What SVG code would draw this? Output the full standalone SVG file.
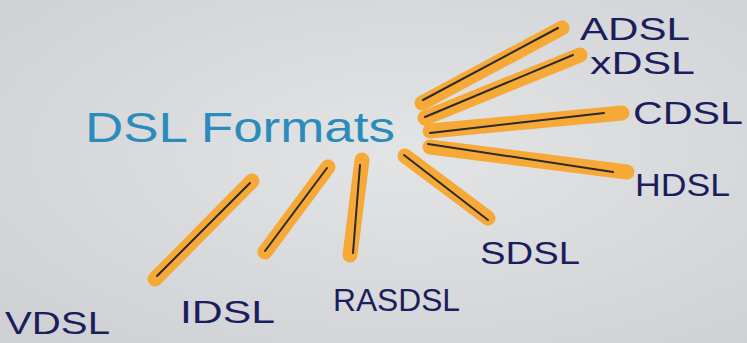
<svg xmlns="http://www.w3.org/2000/svg" width="747" height="343" viewBox="0 0 747 343">
<defs>
<radialGradient id="paper" cx="0.55" cy="0.45" r="0.75">
<stop offset="0" stop-color="#e3e4e6"/>
<stop offset="1" stop-color="#cfd0d3"/>
</radialGradient>
</defs>
<style>
.hl{stroke:#f6a936;stroke-width:15;stroke-linecap:round;fill:none}
.ln{stroke:#2a2a2a;stroke-width:2;stroke-linecap:round;fill:none}
.lbl{font-family:"Liberation Sans",Arial,sans-serif;font-size:32px;fill:#1b1e5c}
.title{font-family:"Liberation Sans",Arial,sans-serif;font-size:42px;fill:#2b8cbb}
</style>
<rect width="747" height="343" fill="url(#paper)"/>
<g id="connectors">
<line class="hl" x1="422" y1="103" x2="562" y2="28"/>
<line class="ln" x1="423" y1="100" x2="558" y2="28"/>
<line class="hl" x1="425" y1="118" x2="580" y2="55"/>
<line class="ln" x1="425" y1="117" x2="573" y2="55"/>
<line class="hl" x1="430" y1="131" x2="622" y2="113"/>
<line class="ln" x1="430" y1="133" x2="604" y2="113"/>
<line class="hl" x1="430" y1="147" x2="627" y2="172"/>
<line class="ln" x1="428" y1="144" x2="613" y2="172"/>
<line class="hl" x1="405" y1="156" x2="488" y2="218"/>
<line class="ln" x1="404" y1="155" x2="488" y2="220"/>
<line class="hl" x1="362" y1="160" x2="350" y2="255"/>
<line class="ln" x1="360" y1="165" x2="353" y2="253"/>
<line class="hl" x1="328" y1="167" x2="265" y2="252"/>
<line class="ln" x1="327" y1="168" x2="265" y2="251"/>
<line class="hl" x1="252" y1="181" x2="155" y2="279"/>
<line class="ln" x1="250" y1="183" x2="157" y2="276"/>
</g>
<g id="title"><text class="title" x="85" y="142" textLength="310" lengthAdjust="spacingAndGlyphs">DSL Formats</text></g>
<g id="adsl"><text class="lbl" x="580" y="40" textLength="110" lengthAdjust="spacingAndGlyphs">ADSL</text></g>
<g id="xdsl"><text class="lbl" x="590" y="74" font-size="28" textLength="105" lengthAdjust="spacingAndGlyphs">xDSL</text></g>
<g id="cdsl"><text class="lbl" x="633" y="124" textLength="110" lengthAdjust="spacingAndGlyphs">CDSL</text></g>
<g id="hdsl"><text class="lbl" x="635" y="196" textLength="95" lengthAdjust="spacingAndGlyphs">HDSL</text></g>
<g id="sdsl"><text class="lbl" x="480" y="264" textLength="100" lengthAdjust="spacingAndGlyphs">SDSL</text></g>
<g id="rasdsl"><text class="lbl" x="333" y="311" textLength="127" lengthAdjust="spacingAndGlyphs">RASDSL</text></g>
<g id="idsl"><text class="lbl" x="180" y="323" textLength="95" lengthAdjust="spacingAndGlyphs">IDSL</text></g>
<g id="vdsl"><text class="lbl" x="5" y="334" font-size="30" textLength="105" lengthAdjust="spacingAndGlyphs">VDSL</text></g>
</svg>
